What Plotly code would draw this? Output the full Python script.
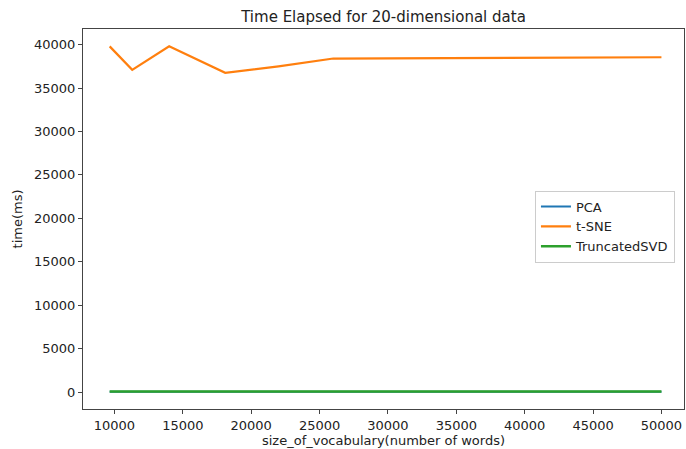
import plotly.graph_objects as go

vocab_tsne = [9650, 11300, 14000, 18100, 22000, 26000, 30000, 40000, 50000]
time_tsne = [39800, 37100, 39800, 36750, 37500, 38400, 38420, 38500, 38550]
vocab_other = [9650, 11300, 14000, 18100, 22000, 26000, 30000, 40000, 50000]
time_pca = [30, 28, 32, 30, 31, 33, 35, 38, 40]
time_svd = [55, 50, 58, 52, 54, 56, 58, 60, 62]

fig = go.Figure()
fig.add_trace(go.Scatter(x=vocab_other, y=time_pca, mode="lines", name="PCA",
                         line=dict(color="#1f77b4", width=2)))
fig.add_trace(go.Scatter(x=vocab_tsne, y=time_tsne, mode="lines", name="t-SNE",
                         line=dict(color="#ff7f0e", width=2.2)))
fig.add_trace(go.Scatter(x=vocab_other, y=time_svd, mode="lines", name="TruncatedSVD",
                         line=dict(color="#2ca02c", width=2.5)))

font = "DejaVu Sans, sans-serif"
axcol = "#444444"
fig.update_layout(
    width=686, height=449,
    margin=dict(l=83, r=2, t=29, b=40),
    paper_bgcolor="white", plot_bgcolor="white",
    font=dict(family=font, size=13, color="#222222"),
    title=dict(text="Time Elapsed for 20-dimensional data", x=0.5, xref="paper",
               xanchor="center", y=1 - 17 / 449, yanchor="middle",
               font=dict(size=15, family=font, color="#222222")),
    showlegend=True,
    legend=dict(x=0.752, y=0.575, xanchor="left", yanchor="top",
                bordercolor="#cccccc", borderwidth=1, bgcolor="white",
                font=dict(size=13, family=font), itemwidth=30,
                tracegroupgap=0),
    xaxis=dict(range=[7700, 51650], tickvals=[10000, 15000, 20000, 25000, 30000,
                                               35000, 40000, 45000, 50000],
               ticks="outside", ticklen=4, tickcolor=axcol, showgrid=False,
               zeroline=False, showline=True, linecolor=axcol, linewidth=1.3,
               mirror=True, tickformat="d",
               title=dict(text="size_of_vocabulary(number of words)", standoff=3,
                          font=dict(size=13))),
    yaxis=dict(range=[-1950, 41800], tickvals=[0, 5000, 10000, 15000, 20000, 25000,
                                                30000, 35000, 40000],
               ticks="outside", ticklen=4, tickcolor=axcol, showgrid=False,
               zeroline=False, showline=True, linecolor=axcol, linewidth=1.3,
               mirror=True, tickformat="d",
               title=dict(text="time(ms)", standoff=8, font=dict(size=13))),
)

fig.write_html("out.html")
